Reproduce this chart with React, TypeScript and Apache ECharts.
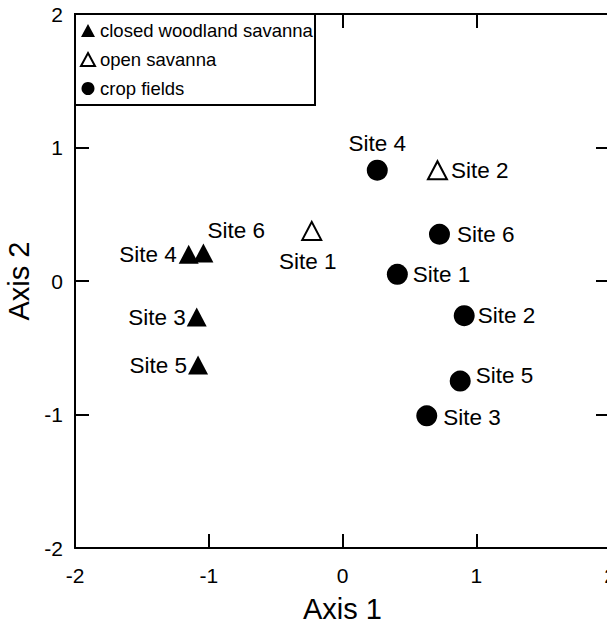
import React, { useEffect, useRef } from "react";
import * as echarts from "echarts";

// ---- data ----
const closedSites = ["Site 4", "Site 6", "Site 3", "Site 5"];
const closedX = [-1.15, -1.04, -1.09, -1.08];
const closedY = [0.2, 0.21, -0.27, -0.63];

const openSites = ["Site 1", "Site 2"];
const openX = [-0.23, 0.71];
const openY = [0.375, 0.83];

const cropSites = ["Site 4", "Site 6", "Site 1", "Site 2", "Site 5", "Site 3"];
const cropX = [0.26, 0.725, 0.41, 0.91, 0.88, 0.63];
const cropY = [0.83, 0.35, 0.05, -0.26, -0.75, -1.01];

const seriesNames = ["closed woodland savanna", "open savanna", "crop fields"];
const axisMin = -2;
const axisMax = 2;
const axisStep = 1;

// ---- style / layout ----
const FONT = "'Liberation Sans', Arial, Helvetica, sans-serif";

type LL = { position: string; distance: number; offset: [number, number] };
const closedLabels: LL[] = [
  { position: "left", distance: 2, offset: [0, 0] },
  { position: "right", distance: 0, offset: [-6, -22] },
  { position: "left", distance: 1, offset: [0, 0] },
  { position: "left", distance: 1, offset: [0, 0] },
];
const openLabels: LL[] = [
  { position: "bottom", distance: 9, offset: [-4, 0] },
  { position: "right", distance: 3, offset: [0, 0] },
];
const cropLabels: LL[] = [
  { position: "top", distance: 5, offset: [0, 0] },
  { position: "right", distance: 7, offset: [0, 0] },
  { position: "right", distance: 5, offset: [0, 0] },
  { position: "right", distance: 3, offset: [0, 0] },
  { position: "right", distance: 5, offset: [0, -6] },
  { position: "right", distance: 6, offset: [0, 2] },
];

function build(sites: string[], xs: number[], ys: number[], labels: LL[]) {
  return sites.map((s, i) => ({
    name: s,
    value: [xs[i], ys[i]],
    label: {
      show: true,
      formatter: s,
      position: labels[i].position,
      distance: labels[i].distance,
      offset: labels[i].offset,
    },
  }));
}

export default function App() {
  const ref = useRef<HTMLDivElement>(null);
  useEffect(() => {
    if (!ref.current) return;
    const chart = echarts.init(ref.current, undefined, { renderer: "svg" });
    const axisCommon = () => ({
      type: "value",
      min: axisMin,
      max: axisMax,
      interval: axisStep,
      splitLine: { show: false },
      axisLine: { show: true, onZero: false, lineStyle: { color: "#000", width: 2 } },
      axisTick: { show: true, inside: true, length: 14, lineStyle: { color: "#000", width: 2 } },
    });
    const tickLabelStyle = { color: "#000", fontSize: 21, fontFamily: FONT };
    const siteLabelStyle = { color: "#000", fontSize: 22.5, fontFamily: FONT };
    chart.setOption({
      animation: false,
      backgroundColor: "#fff",
      textStyle: { fontFamily: FONT },
      grid: { left: 75, top: 14, width: 535, height: 534, outerBoundsMode: "none", containLabel: false },
      xAxis: [
        {
          ...axisCommon(),
          position: "bottom",
          name: "Axis 1",
          nameLocation: "middle",
          nameGap: 46,
          nameTextStyle: { color: "#000", fontSize: 29, fontFamily: FONT },
          axisLabel: { ...tickLabelStyle, margin: 17 },
        },
        { ...axisCommon(), position: "top", axisLabel: { show: false } },
      ],
      yAxis: [
        {
          ...axisCommon(),
          position: "left",
          name: "Axis 2",
          nameLocation: "middle",
          nameGap: 39,
          nameTextStyle: { color: "#000", fontSize: 29, fontFamily: FONT },
          axisLabel: { ...tickLabelStyle, margin: 12 },
        },
        { ...axisCommon(), position: "right", axisLabel: { show: false } },
      ],
      legend: {
        show: true,
        orient: "vertical",
        left: 80,
        top: 21,
        padding: 0,
        itemGap: 10,
        itemWidth: 14,
        itemHeight: 13,
        data: seriesNames,
        textStyle: { color: "#000", fontSize: 18.5, fontFamily: FONT, lineHeight: 18 },
        z: 30,
      },
      graphic: [
        {
          type: "rect",
          z: 25,
          shape: { x: 75, y: 14, width: 240, height: 91 },
          style: { fill: "#fff", stroke: "#000", lineWidth: 2 },
        },
      ],
      series: [
        {
          name: seriesNames[0],
          type: "scatter",
          symbol: "triangle",
          symbolSize: [20, 19],
          itemStyle: { color: "#000", opacity: 1 },
          label: siteLabelStyle,
          data: build(closedSites, closedX, closedY, closedLabels),
        },
        {
          name: seriesNames[1],
          type: "scatter",
          symbol: "triangle",
          symbolSize: [19, 18],
          itemStyle: { color: "#fff", borderColor: "#000", borderWidth: 2, opacity: 1 },
          label: siteLabelStyle,
          data: build(openSites, openX, openY, openLabels),
        },
        {
          name: seriesNames[2],
          type: "scatter",
          symbol: "circle",
          symbolSize: 21,
          itemStyle: { color: "#000", opacity: 1 },
          label: siteLabelStyle,
          data: build(cropSites, cropX, cropY, cropLabels),
        },
      ],
    });
    return () => chart.dispose();
  }, []);
  return (
    <div
      ref={ref}
      style={{ position: "fixed", left: 0, top: 0, width: 607, height: 625 }}
    />
  );
}
